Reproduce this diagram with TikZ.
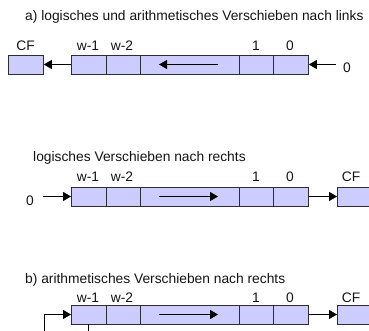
\documentclass[tikz,border=0pt]{standalone}
\usepackage{fontspec}
\setmainfont{Liberation Sans}
\usetikzlibrary{arrows.meta}
\definecolor{cellfill}{RGB}{204,204,255}
\definecolor{bordercol}{RGB}{45,45,55}
\definecolor{txtcol}{RGB}{20,20,20}
\tikzset{
  cell/.style={draw=bordercol, fill=cellfill, line width=0.8pt, inner sep=0pt, minimum height=19pt, anchor=west},
  arr/.style={-{Triangle[length=8pt,width=9pt]}, line width=1pt, draw=black},
  lbl/.style={font=\fontsize{13.8}{16}\selectfont, text=txtcol, inner sep=0pt, anchor=base},
  ttl/.style={font=\fontsize{13.8}{16}\selectfont, text=txtcol, inner sep=0pt, anchor=base west}
}
\begin{document}
\begin{tikzpicture}[x=1pt,y=-1pt]
\useasboundingbox (0,0) rectangle (369,331);
\clip (0,0) rectangle (369,331);
% ---------- a) ----------
\node[ttl] (ta) at (25,21) {a) logisches und arithmetisches Verschieben nach links};
\node[cell, minimum width=35pt] (acf) at (8,64.5) {};
\node[cell, minimum width=35pt] (a1) at (71,64.5) {};
\node[cell, minimum width=34pt] (a2) at (106,64.5) {};
\node[cell, minimum width=99pt] (a3) at (140,64.5) {};
\node[cell, minimum width=34pt] (a4) at (239,64.5) {};
\node[cell, minimum width=35pt] (a5) at (273,64.5) {};
\node[lbl] (lacf) at (25.5,51) {CF};
\node[lbl] (la1) at (88,51) {w-1};
\node[lbl] (la2) at (122,51) {w-2};
\node[lbl] (la4) at (256,51) {1};
\node[lbl] (la5) at (290,51) {0};
\node[lbl] (la0) at (347,73) {0};
\coordinate (ain) at (336,64.5);
\coordinate (aas) at (218,64.5);
\coordinate (aae) at (159,64.5);
\draw[arr] (a1.west) -- (acf.east);
\draw[arr] (ain) -- (a5.east);
\draw[arr] (aas) -- (aae);
% ---------- logisches rechts ----------
\node[ttl] (tb) at (33,161) {logisches Verschieben nach rechts};
\node[cell, minimum width=35pt] (b1) at (71,196.5) {};
\node[cell, minimum width=34pt] (b2) at (106,196.5) {};
\node[cell, minimum width=99pt] (b3) at (140,196.5) {};
\node[cell, minimum width=34pt] (b4) at (239,196.5) {};
\node[cell, minimum width=35pt] (b5) at (273,196.5) {};
\node[cell, minimum width=35pt] (bcf) at (337,196.5) {};
\node[lbl] (lb1) at (88,182) {w-1};
\node[lbl] (lb2) at (122,182) {w-2};
\node[lbl] (lb4) at (256,182) {1};
\node[lbl] (lb5) at (290,182) {0};
\node[lbl] (lbcf) at (351,182) {CF};
\node[lbl] (lb0) at (30,205) {0};
\coordinate (bin) at (43,196.5);
\coordinate (bas) at (159,196.5);
\coordinate (bae) at (218,196.5);
\draw[arr] (bin) -- (b1.west);
\draw[arr] (b5.east) -- (bcf.west);
\draw[arr] (bas) -- (bae);
% ---------- b) ----------
\node[ttl] (tc) at (25,283) {b) arithmetisches Verschieben nach rechts};
\node[cell, minimum width=35pt] (c1) at (71,314.5) {};
\node[cell, minimum width=34pt] (c2) at (106,314.5) {};
\node[cell, minimum width=99pt] (c3) at (140,314.5) {};
\node[cell, minimum width=34pt] (c4) at (239,314.5) {};
\node[cell, minimum width=35pt] (c5) at (273,314.5) {};
\node[cell, minimum width=35pt] (ccf) at (337,314.5) {};
\node[lbl] (lc1) at (88,302) {w-1};
\node[lbl] (lc2) at (122,302) {w-2};
\node[lbl] (lc4) at (256,302) {1};
\node[lbl] (lc5) at (290,302) {0};
\node[lbl] (lccf) at (351,302) {CF};
\coordinate (cas) at (159,314.5);
\coordinate (cae) at (218,314.5);
\coordinate (cloop) at (44,340);
\draw[arr] (c5.east) -- (ccf.west);
\draw[arr] (cas) -- (cae);
\draw[arr] (c1.south) |- (cloop) |- (c1.west);
\end{tikzpicture}
\end{document}
